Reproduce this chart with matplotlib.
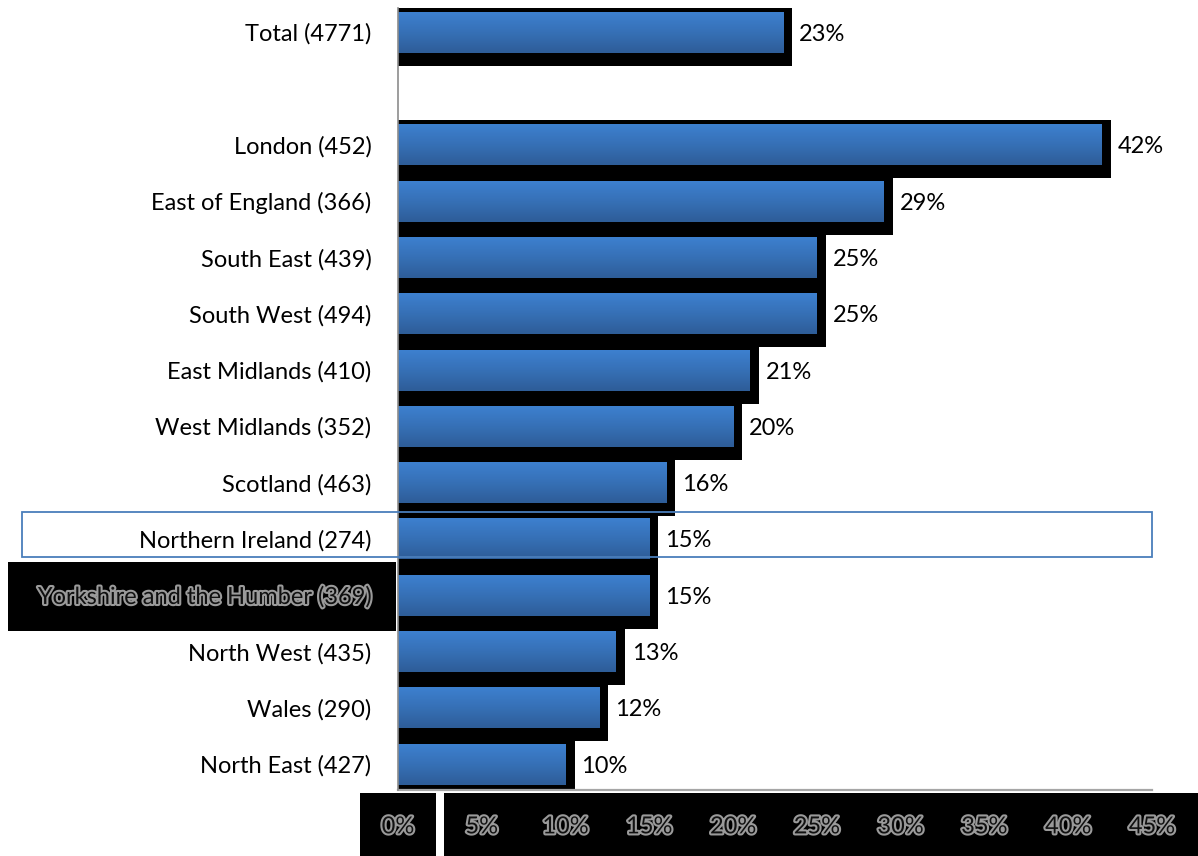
import matplotlib
matplotlib.use("Agg")
import matplotlib.pyplot as plt
import matplotlib.patheffects as pe
import matplotlib.transforms as mtransforms
from matplotlib.patches import Rectangle
from matplotlib.colors import LinearSegmentedColormap
import numpy as np

plt.rcParams['font.family'] = ['Lato', 'DejaVu Sans']

categories = ["Total (4771)", "", "London (452)", "East of England (366)", "South East (439)",
              "South West (494)", "East Midlands (410)", "West Midlands (352)",
              "Scotland (463)", "Northern Ireland (274)", "Yorkshire and the Humber (369)",
              "North West (435)", "Wales (290)", "North East (427)"]
values = [23, None, 42, 29, 25, 25, 21, 20, 16, 15, 15, 13, 12, 10]
xticks = [0, 5, 10, 15, 20, 25, 30, 35, 40, 45]
xticklabels = ["0%", "5%", "10%", "15%", "20%", "25%", "30%", "35%", "40%", "45%"]

W, H = 1198, 856
FS = 17
fig = plt.figure(figsize=(W / 100, H / 100), dpi=100)
ax = fig.add_axes([398 / W, 1 - 790 / H, (1152 - 398) / W, (790 - 8) / H])
ax.set_xlim(0, 45)
ax.set_ylim(13.46, -0.43)

px_x = 45 / (1152 - 398)   # data units per pixel (x)
px_y = 13.89 / (790 - 8)   # data units per pixel (y)
bar_h = 41 * px_y

grad = np.linspace(0, 1, 64).reshape(-1, 1)
cmap = LinearSegmentedColormap.from_list("g", ["#3d80cf", "#3670b6", "#2e5d98"])

for i, v in enumerate(values):
    if v is None:
        continue
    ax.add_patch(Rectangle((0, i - bar_h / 2 - 4 * px_y), v + 9 * px_x, bar_h + 17 * px_y,
                           facecolor="black", edgecolor="none", zorder=1))
    bars = ax.barh(i, v, height=bar_h, color="#3673c0", zorder=2)
    b = bars[0]
    im = ax.imshow(grad, extent=(0, v, i + bar_h / 2, i - bar_h / 2), cmap=cmap,
                   aspect="auto", zorder=3, interpolation="bilinear")
    im.set_clip_path(b)
    ax.annotate(f"{v}%", xy=(v + 9 * px_x, i), xytext=(5, -1.5), textcoords="offset points",
                va="center", ha="left", fontsize=FS, color="black", zorder=5)

ax.set_xlim(0, 45)
ax.set_ylim(13.46, -0.43)

for s in ["top", "right"]:
    ax.spines[s].set_visible(False)
ax.spines["left"].set_color("#8c8c8c")
ax.spines["bottom"].set_color("#a6a6a6")
ax.spines["left"].set_linewidth(1.2)
ax.spines["bottom"].set_linewidth(1.6)
ax.spines["left"].set_zorder(6)

ax.set_yticks(range(len(categories)))
ax.set_yticklabels(categories, fontsize=FS)
ax.tick_params(axis="y", length=0, pad=19)
glow = [pe.withStroke(linewidth=3, foreground="#9a9a9a")]
for lbl in ax.get_yticklabels():
    if lbl.get_text().startswith("Yorkshire"):
        lbl.set_color("#111111")
        lbl.set_path_effects(glow)

ax.set_xticks(xticks)
ax.set_xticklabels(xticklabels, fontsize=FS, color="#111111")
ax.tick_params(axis="x", length=0, pad=19)
for lbl in ax.get_xticklabels():
    lbl.set_path_effects(glow)

# black boxes behind the x tick labels (figure coordinates)
for x0, x1 in [(360, 436), (444, 1198)]:
    fig.patches.append(Rectangle((x0 / W, 0), (x1 - x0) / W, (856 - 793) / H,
                                 transform=fig.transFigure, facecolor="black",
                                 edgecolor="none", zorder=-5))

# highlight boxes
blend = mtransforms.blended_transform_factory(fig.transFigure, ax.transData)
yi = categories.index("Yorkshire and the Humber (369)")
ax.add_patch(Rectangle((8 / W, yi - 33 * px_y), (396 - 8) / W, 69 * px_y,
                       transform=blend, facecolor="black", edgecolor="none",
                       zorder=-1, clip_on=False))
ni = categories.index("Northern Ireland (274)")
ax.add_patch(Rectangle((22 / W, ni - 27 * px_y), (1152 - 22) / W, 45 * px_y,
                       transform=blend, facecolor="none", edgecolor="#4a7ebb",
                       linewidth=1.3, zorder=7, clip_on=False))

fig.savefig("out.png", dpi=100)
